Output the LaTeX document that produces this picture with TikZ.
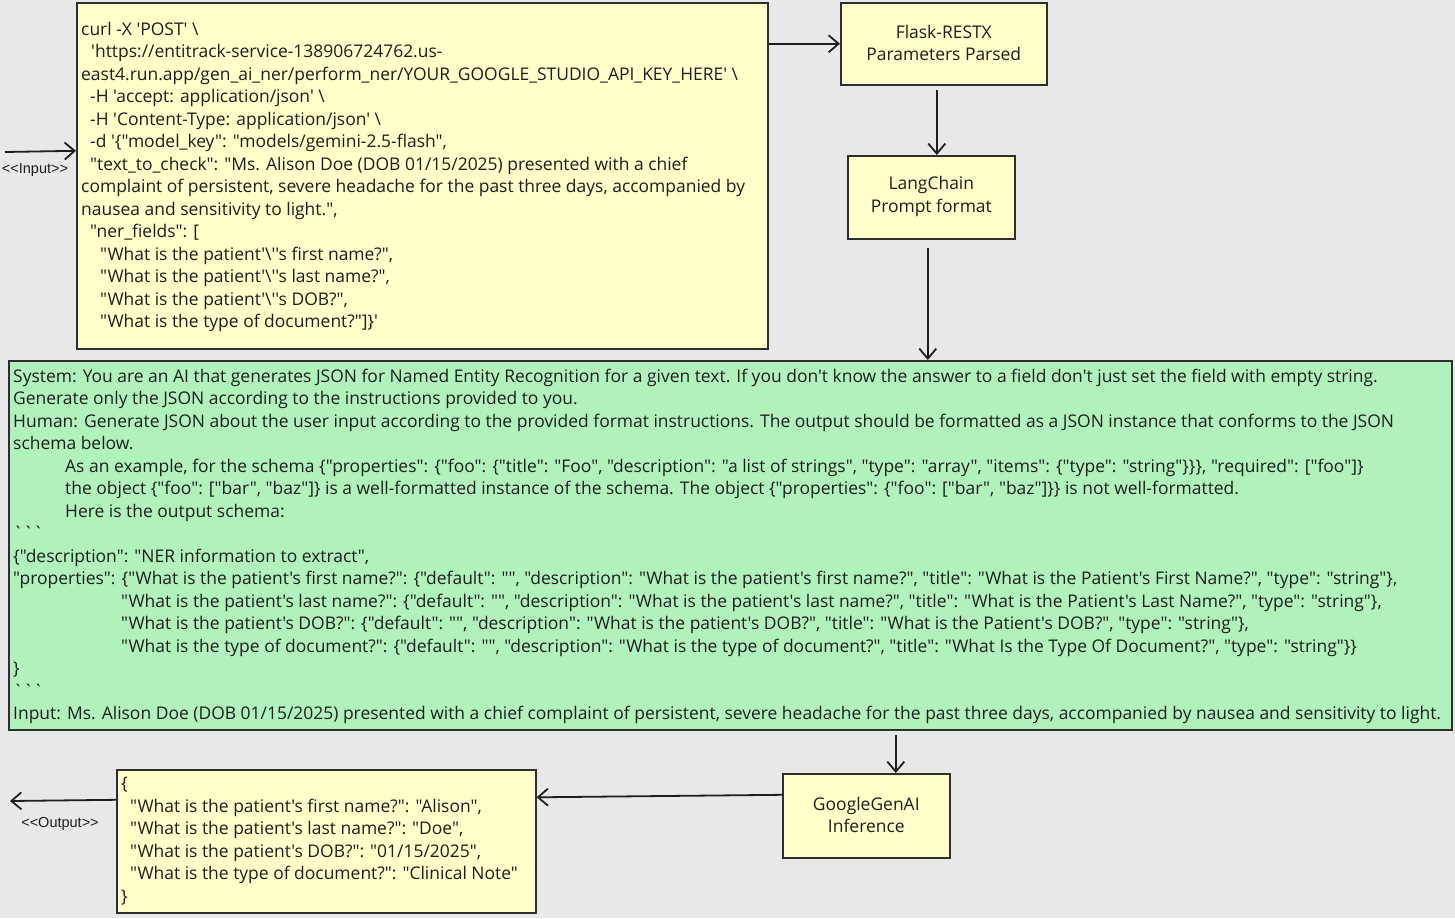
\documentclass[tikz,border=0pt]{standalone}
\usepackage{fontspec}
\newfontfamily\dfont{Open Sans}[Ligatures=TeXOff]
\newfontfamily\lfont{Liberation Sans}[Ligatures=TeXOff]
\usetikzlibrary{arrows.meta}
\definecolor{bgc}{HTML}{E8E8E8}
\definecolor{noteyel}{HTML}{FFFFC9}
\definecolor{promptgreen}{HTML}{B1F2BC}
\definecolor{ink}{HTML}{1E1E1E}
\definecolor{edge}{HTML}{2E2E2E}
\newcommand\bs{\textbackslash}
\newcommand\ind[1]{\hspace*{#1pt}}
\tikzset{
  box/.style={draw=edge, line width=1.6pt, anchor=north west, inner sep=0pt},
  yelbox/.style={box, fill=noteyel},
  grnbox/.style={box, fill=promptgreen},
  body/.style={anchor=base west, inner sep=0pt, text=ink, font=\dfont\fontsize{17.45}{22.5}\selectfont},
  title/.style={align=center, inner sep=0pt, text=ink, font=\dfont\fontsize{17.45}{22.5}\selectfont},
  tag/.style={inner sep=0pt, text=ink, font=\lfont\fontsize{14.5}{16}\selectfont},
  arr/.style={draw=ink, line width=1.8pt, -{Straight Barb[length=10pt,width=17pt,line width=1.8pt]}}
}
\begin{document}
\begin{tikzpicture}[x=1pt,y=-1pt]
\fill[bgc] (0,0) rectangle (1455,918);
\useasboundingbox (0,0) rectangle (1455,918);

% boxes
\node[yelbox, minimum width=691pt, minimum height=346pt] (curl) at (76,2) {};
\node[yelbox, minimum width=206pt, minimum height=82pt] (flask) at (840,2) {};
\node[yelbox, minimum width=167pt, minimum height=83pt] (lang) at (847,155) {};
\node[grnbox, minimum width=1443pt, minimum height=369pt] (prompt) at (8,360) {};
\node[yelbox, minimum width=167pt, minimum height=84pt] (gen) at (782,773) {};
\node[yelbox, minimum width=419pt, minimum height=143pt] (out) at (116,769) {};

% box captions
\node[title] (flasktxt) at ([yshift=1pt]flask.center) {Flask-RESTX\\Parameters Parsed};
\node[title] (langtxt) at ([yshift=1pt]lang.center) {LangChain\\Prompt format};
\node[title] (gentxt) at ([yshift=1pt]gen.center) {GoogleGenAI\\Inference};

% request sent with curl
\node[body] (curltxt) at (81,35) {\begin{tabular}[t]{@{}l@{}}
curl -X 'POST' \bs\\
\ind{10}'https://entitrack-service-138906724762.us-\\
east4.run.app/gen\_ai\_ner/perform\_ner/YOUR\_GOOGLE\_STUDIO\_API\_KEY\_HERE' \bs\\
\ind{9}-H 'accept: application/json' \bs\\
\ind{9}-H 'Content-Type: application/json' \bs\\
\ind{9}-d '\{"model\_key": "models/gemini-2.5-flash",\\
\ind{9}"text\_to\_check": "Ms. Alison Doe (DOB 01/15/2025) presented with a chief\\
complaint of persistent, severe headache for the past three days, accompanied by\\
nausea and sensitivity to light.",\\
\ind{9}"ner\_fields": [\\
\ind{19}"What is the patient'\bs''s first name?",\\
\ind{19}"What is the patient'\bs''s last name?",\\
\ind{19}"What is the patient'\bs''s DOB?",\\
\ind{19}"What is the type of document?"]\}'
\end{tabular}};

% formatted prompt
\node[body] (prompttxt) at (13,382) {\begin{tabular}[t]{@{}l@{}}
System: You are an AI that generates JSON for Named Entity Recognition for a given text. If you don't know the answer to a field don't just set the field with empty string.\\
Generate only the JSON according to the instructions provided to you.\\
Human: Generate JSON about the user input according to the provided format instructions. The output should be formatted as a JSON instance that conforms to the JSON\\
schema below.\\
\ind{52}As an example, for the schema \{"properties": \{"foo": \{"title": "Foo", "description": "a list of strings", "type": "array", "items": \{"type": "string"\}\}\}, "required": ["foo"]\}\\
\ind{52}the object \{"foo": ["bar", "baz"]\} is a well-formatted instance of the schema. The object \{"properties": \{"foo": ["bar", "baz"]\}\} is not well-formatted.\\
\ind{52}Here is the output schema:\\
```\\
\{"description": "NER information to extract",\\
"properties": \{"What is the patient's first name?": \{"default": "", "description": "What is the patient's first name?", "title": "What is the Patient's First Name?", "type": "string"\},\\
\ind{108}"What is the patient's last name?": \{"default": "", "description": "What is the patient's last name?", "title": "What is the Patient's Last Name?", "type": "string"\},\\
\ind{108}"What is the patient's DOB?": \{"default": "", "description": "What is the patient's DOB?", "title": "What is the Patient's DOB?", "type": "string"\},\\
\ind{108}"What is the type of document?": \{"default": "", "description": "What is the type of document?", "title": "What Is the Type Of Document?", "type": "string"\}\}\\
\}\\
```\\
Input: Ms. Alison Doe (DOB 01/15/2025) presented with a chief complaint of persistent, severe headache for the past three days, accompanied by nausea and sensitivity to light.
\end{tabular}};

% extracted entities
\node[body] (outtxt) at (121,789.5) {\begin{tabular}[t]{@{}l@{}}
\{\\
\ind{9}"What is the patient's first name?": "Alison",\\
\ind{9}"What is the patient's last name?": "Doe",\\
\ind{9}"What is the patient's DOB?": "01/15/2025",\\
\ind{9}"What is the type of document?": "Clinical Note"\\
\}
\end{tabular}};

% free ends and labels
\coordinate (inbeg) at (5,152);
\coordinate (outend) at (10,801);
\node[tag] (inlbl) at (35,170) {<<Input>>};
\node[tag] (outlbl) at (60,824) {<<Output>>};

% connectors
\draw[arr] (inbeg) -- ([yshift=25pt]curl.west);
\draw[arr] (curl.east |- flask.west) -- (flask.west);
\draw[arr] ([xshift=-7pt,yshift=-4pt]flask.south) -- ([xshift=5.5pt]lang.north);
\draw[arr] ([xshift=-3.5pt,yshift=-8pt]lang.south) -- ([xshift=-3.5pt]lang.south |- prompt.north);
\draw[arr] ([xshift=29.5pt,yshift=-4pt]gen.north |- prompt.south) -- ([xshift=29.5pt]gen.north);
\draw[arr] ([yshift=21pt]gen.west) -- ([yshift=44pt]out.east);
\draw[arr] ([yshift=41.5pt]out.west) -- (outend);
\end{tikzpicture}
\end{document}
